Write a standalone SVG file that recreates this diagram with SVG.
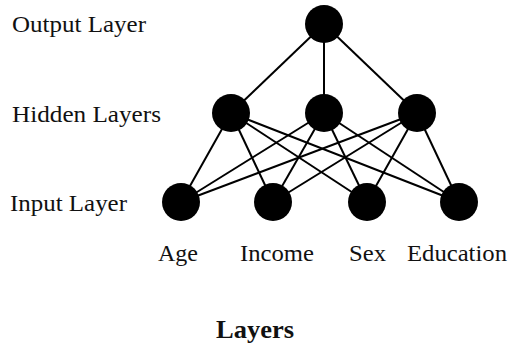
<svg xmlns="http://www.w3.org/2000/svg" width="511" height="348" viewBox="0 0 511 348">
<style>
.n{fill:#000}
.e line{stroke:#000;stroke-width:2}
.t{font-family:"Liberation Serif","Times New Roman",serif;font-size:23.5px;fill:#111}
.b{font-weight:bold;font-size:25px}
</style>
<rect width="511" height="348" fill="#fff"/>
<g class="e" id="connectors">
<line x1="324" y1="24" x2="231" y2="113"/>
<line x1="324" y1="24" x2="324" y2="113"/>
<line x1="324" y1="24" x2="417" y2="113"/>
<line x1="231" y1="113" x2="181" y2="202"/>
<line x1="231" y1="113" x2="273" y2="202"/>
<line x1="231" y1="113" x2="367" y2="202"/>
<line x1="231" y1="113" x2="459" y2="202"/>
<line x1="324" y1="113" x2="181" y2="202"/>
<line x1="324" y1="113" x2="273" y2="202"/>
<line x1="324" y1="113" x2="367" y2="202"/>
<line x1="324" y1="113" x2="459" y2="202"/>
<line x1="417" y1="113" x2="181" y2="202"/>
<line x1="417" y1="113" x2="273" y2="202"/>
<line x1="417" y1="113" x2="367" y2="202"/>
<line x1="417" y1="113" x2="459" y2="202"/>
</g>
<g id="output"><circle class="n" cx="324" cy="24" r="19"/></g>
<g id="hidden1"><circle class="n" cx="231" cy="113" r="19"/></g>
<g id="hidden2"><circle class="n" cx="324" cy="113" r="19"/></g>
<g id="hidden3"><circle class="n" cx="417" cy="113" r="19"/></g>
<g id="age"><circle class="n" cx="181" cy="202" r="19"/><text class="t" x="158" y="261" textLength="40" lengthAdjust="spacingAndGlyphs">Age</text></g>
<g id="income"><circle class="n" cx="273" cy="202" r="19"/><text class="t" x="240" y="261" textLength="74" lengthAdjust="spacingAndGlyphs">Income</text></g>
<g id="sex"><circle class="n" cx="367" cy="202" r="19"/><text class="t" x="349" y="261" textLength="37" lengthAdjust="spacingAndGlyphs">Sex</text></g>
<g id="education"><circle class="n" cx="459" cy="202" r="19"/><text class="t" x="407" y="261" textLength="100" lengthAdjust="spacingAndGlyphs">Education</text></g>
<text class="t" x="12" y="32" textLength="134" lengthAdjust="spacingAndGlyphs">Output Layer</text>
<text class="t" x="12" y="122" textLength="149" lengthAdjust="spacingAndGlyphs">Hidden Layers</text>
<text class="t" x="10" y="211" textLength="117" lengthAdjust="spacingAndGlyphs">Input Layer</text>
<text class="t b" x="216" y="338" textLength="78" lengthAdjust="spacingAndGlyphs">Layers</text>
</svg>
